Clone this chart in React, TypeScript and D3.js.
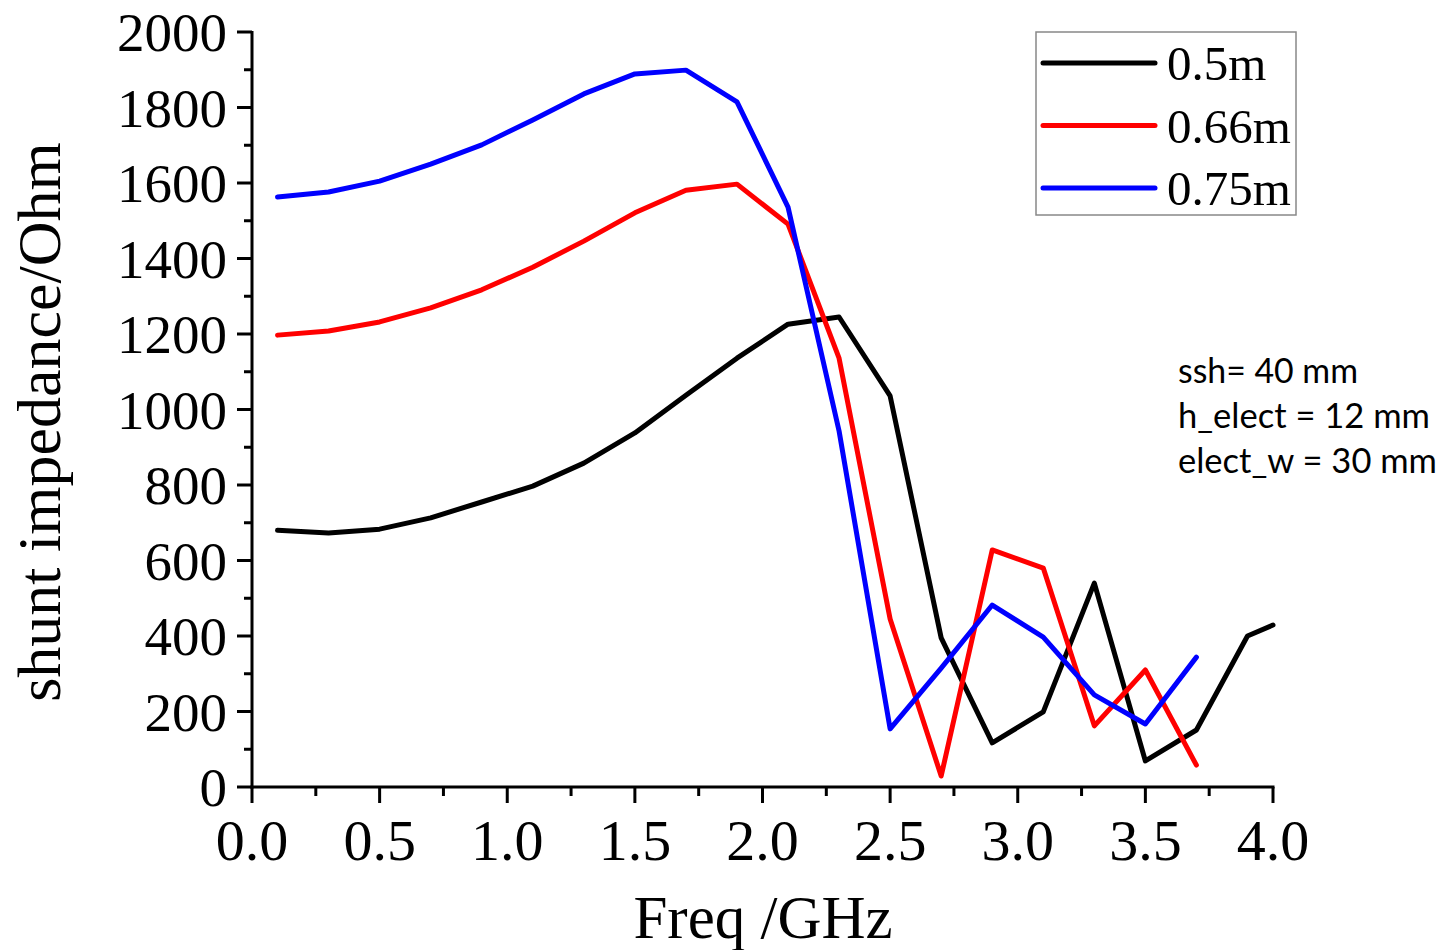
import React from "react";
import * as d3 from "d3";

const freqs = [0.1, 0.3, 0.5, 0.7, 0.9, 1.1, 1.3, 1.5, 1.7, 1.9, 2.1, 2.3, 2.5, 2.7, 2.9, 3.1, 3.3, 3.5, 3.7, 3.9, 4.0];
const black05 = [680, 673, 683, 713, 755, 797, 858, 938, 1038, 1136, 1226, 1245, 1036, 395, 117, 199, 540, 69, 151, 400, 429];
const red066 = [1197, 1208, 1232, 1269, 1317, 1377, 1446, 1521, 1581, 1597, 1491, 1136, 445, 29, 628, 580, 162, 310, 58];
const blue075 = [1563, 1576, 1605, 1650, 1701, 1767, 1836, 1889, 1899, 1815, 1536, 943, 154, 315, 482, 397, 244, 167, 344];

const seriesNames = ["0.5m", "0.66m", "0.75m"];
const seriesColors = ["#000000", "#ff0000", "#0000ff"];
const seriesValues = [black05, red066, blue075];

const xTicks = [0, 0.5, 1.0, 1.5, 2.0, 2.5, 3.0, 3.5, 4.0];
const yTicks = [0, 200, 400, 600, 800, 1000, 1200, 1400, 1600, 1800, 2000];
const annotations = ["ssh= 40 mm", "h_elect = 12 mm", "elect_w = 30 mm"];
const annotationWidths = [180, 252, 259];

const W = 1443;
const H = 950;
const serif = "'Liberation Serif', 'Times New Roman', serif";

export default function App() {
  const x = d3.scaleLinear().domain([0, 4]).range([252, 1273]);
  const y = d3.scaleLinear().domain([0, 2000]).range([787, 32]);
  const line = d3
    .line<[number, number]>()
    .x((d) => x(d[0]))
    .y((d) => y(d[1]));

  const xMinor = d3.range(0, 4.001, 0.25);
  const yMinor = d3.range(0, 2001, 100);

  return (
    <svg
      width={W}
      height={H}
      style={{ position: "absolute", left: 0, top: 0, background: "#fff" }}
    >
      <rect x={0} y={0} width={W} height={H} fill="#fff" />
      {seriesValues.map((vals, i) => (
        <path
          key={i}
          d={line(vals.map((v, j) => [freqs[j], v] as [number, number])) || ""}
          fill="none"
          stroke={seriesColors[i]}
          strokeWidth={5}
          strokeLinejoin="round"
          strokeLinecap="round"
        />
      ))}
      <g stroke="#000" strokeWidth={3}>
        <line x1={x(0)} x2={x(0)} y1={y(2000) - 1} y2={y(0) + 1.5} />
        <line x1={x(0) - 1.5} x2={x(4) + 1.5} y1={y(0)} y2={y(0)} />
        {yMinor.map((v) => (
          <line
            key={"ym" + v}
            x1={x(0) - (v % 200 === 0 ? 15 : 8)}
            x2={x(0)}
            y1={y(v)}
            y2={y(v)}
          />
        ))}
        {xMinor.map((v) => (
          <line
            key={"xm" + v}
            x1={x(v)}
            x2={x(v)}
            y1={y(0)}
            y2={y(0) + (Math.abs((v * 2) % 1) < 1e-6 ? 16 : 9)}
          />
        ))}
      </g>
      <g fontFamily={serif} fill="#000">
        {yTicks.map((v) => (
          <text key={"yl" + v} x={227} y={y(v)} dy="0.35em" textAnchor="end" fontSize={55}>
            {v}
          </text>
        ))}
        {xTicks.map((v) => (
          <text key={"xl" + v} x={x(v)} y={860} textAnchor="middle" fontSize={58}>
            {v.toFixed(1)}
          </text>
        ))}
      </g>
      <text
        x={763}
        y={938}
        textAnchor="middle"
        fontFamily={serif}
        fontSize={61}
        fill="#000"
      >
        Freq /GHz
      </text>
      <text
        transform="translate(60,422) rotate(-90)"
        textAnchor="middle"
        fontFamily={serif}
        fontSize={62}
        fill="#000"
      >
        shunt impedance/Ohm
      </text>
      <rect x={1036} y={32} width={260} height={183} fill="#fff" stroke="#888" strokeWidth={1.5} />
      {seriesNames.map((name, i) => (
        <g key={name}>
          <line
            x1={1043}
            x2={1155}
            y1={63 + i * 62.5}
            y2={63 + i * 62.5}
            stroke={seriesColors[i]}
            strokeWidth={5}
            strokeLinecap="round"
          />
          <text x={1167} y={80 + i * 62.5} fontFamily={serif} fontSize={49} fill="#000">
            {name}
          </text>
        </g>
      ))}
      <g fontFamily="Lato, 'Open Sans', sans-serif" fontSize={34} fill="#000">
        {annotations.map((t, i) => (
          <text
            key={t}
            x={1178}
            y={383 + i * 45}
            textLength={annotationWidths[i]}
            lengthAdjust="spacingAndGlyphs"
          >
            {t}
          </text>
        ))}
      </g>
    </svg>
  );
}
